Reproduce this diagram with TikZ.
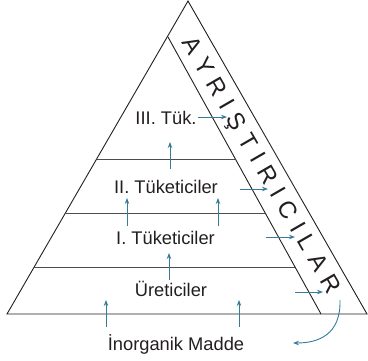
\documentclass[tikz,border=0pt]{standalone}
\usepackage{fontspec}
\setmainfont{Liberation Sans}
\usetikzlibrary{arrows.meta}
\definecolor{ink}{RGB}{35,31,32}
\definecolor{flow}{RGB}{52,124,152}
\newcommand\lsp{\kern8pt}
\tikzset{
  edge/.style={draw=ink, line width=0.9pt, line join=miter},
  level/.style={draw=ink!80, line width=1.0pt},
  flowarrow/.style={draw=flow, line width=0.9pt, -{Stealth[length=6pt,width=4.5pt]}},
  lbl/.style={text=ink, font=\fontsize{18.3}{22}\selectfont, anchor=base, inner sep=0pt},
  band/.style={text=ink, font=\fontsize{24}{28}\selectfont, anchor=base, inner sep=0pt}
}
\begin{document}
\begin{tikzpicture}[x=1pt,y=-1pt]
\useasboundingbox (0,0) rectangle (368,360);
% corners
\coordinate (L) at (7,314);
\coordinate (R) at (367,314);
\coordinate (T) at (188,1);
\coordinate (IT) at (168,37);
\coordinate (IB) at (321,314);
% outer triangle and inner band edge
\draw[edge] (L) -- (T) -- (R) -- cycle;
\draw[edge] (IT) -- (IB);
% level lines
\coordinate (h1a) at (96.6,159); \coordinate (h1b) at (235.4,159);
\coordinate (h2a) at (65.4,213); \coordinate (h2b) at (265.2,213);
\coordinate (h3a) at (34.2,267); \coordinate (h3b) at (295.0,267);
\draw[level] (h1a) -- (h1b);
\draw[level] (h2a) -- (h2b);
\draw[level] (h3a) -- (h3b);
% labels
\node[lbl] (t3) at (166,124) {III. Tük.};
\node[lbl] (t2) at (166,193) {II. Tüketiciler};
\node[lbl] (t1) at (165.5,244) {I. Tüketiciler};
\node[lbl] (ur) at (171,296) {Üreticiler};
\node[lbl] (in) at (176,350) {İnorganik Madde};
% decomposers
\node[band, rotate=-60] (ay) at (255,168.8) {A\lsp Y\lsp R\lsp I\lsp Ş\lsp T\lsp I\lsp R\lsp I\lsp C\lsp I\lsp L\lsp A\lsp R};
% arrow endpoints
\coordinate (a1s) at (198,117); \coordinate (a1e) at (227,117);
\coordinate (a2s) at (170,169); \coordinate (a2e) at (170,142);
\coordinate (a3s) at (240,189); \coordinate (a3e) at (268,189);
\coordinate (a4s) at (127,226); \coordinate (a4e) at (127,198);
\coordinate (a5s) at (218,226); \coordinate (a5e) at (218,198);
\coordinate (a6s) at (266,237); \coordinate (a6e) at (295,237);
\coordinate (a7s) at (169,280); \coordinate (a7e) at (169,253);
\coordinate (a8s) at (295,292); \coordinate (a8e) at (323,292);
\coordinate (a9s) at (106,327); \coordinate (a9e) at (106,300);
\coordinate (a10s) at (239,327); \coordinate (a10e) at (239,300);
\coordinate (cs) at (340,300); \coordinate (ce) at (293,343);
\foreach \i in {1,...,10} \draw[flowarrow] (a\i s) -- (a\i e);
\draw[flowarrow] (cs) .. controls (341,335) and (318,343) .. (ce);
\end{tikzpicture}
\end{document}
